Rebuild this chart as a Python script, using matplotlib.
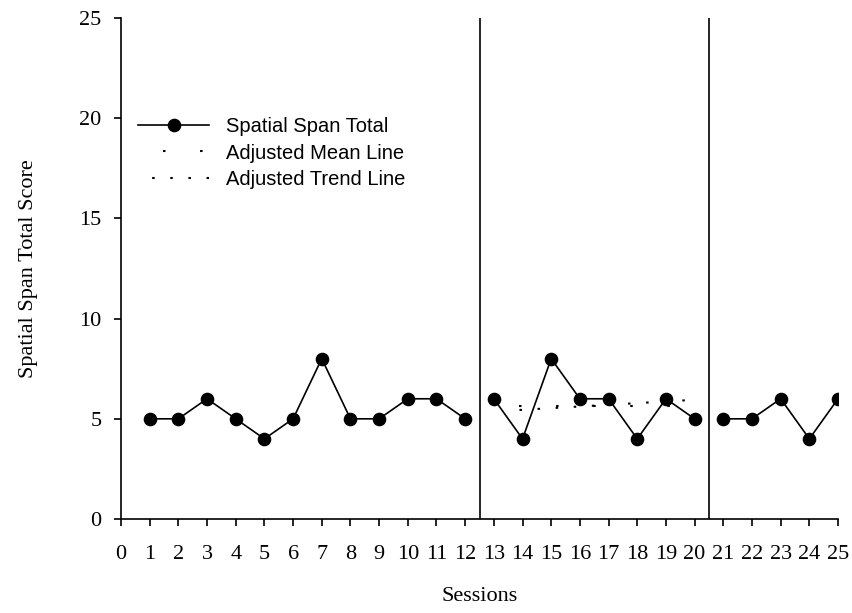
import matplotlib.pyplot as plt
import numpy as np

# data
sesi_a = [1, 2, 3, 4, 5, 6, 7, 8, 9, 10, 11, 12]
skor_a = [5, 5, 6, 5, 4, 5, 8, 5, 5, 6, 6, 5]
sesi_b = [13, 14, 15, 16, 17, 18, 19, 20]
skor_b = [6, 4, 8, 6, 6, 4, 6, 5]
sesi_c = [21, 22, 23, 24, 25]
skor_c = [5, 5, 6, 4, 6]

mean_x = [13, 20]
mean_y = [5.65, 5.65]
trend_x = [13.4, 20]
trend_y = [5.4, 5.95]

fase_batas = [12.5, 20.5]
xticks = list(range(0, 26))
yticks = [0, 5, 10, 15, 20, 25]

fig = plt.figure(figsize=(8.52, 6.13), dpi=100)
ax = fig.add_axes([0.142, 0.1533, 0.8416, 0.8173])

serif = ['Liberation Serif', 'DejaVu Serif']
sans = ['Liberation Sans', 'DejaVu Sans']

gaya = dict(color='black', linewidth=1.2, marker='o', markersize=8.8)
ax.plot(sesi_a, skor_a, label='Spatial Span Total', **gaya)
ax.plot(sesi_b, skor_b, **gaya)
ax.plot(sesi_c, skor_c, **gaya)

ax.plot(mean_x, mean_y, color='black', linewidth=1.5,
        linestyle=(5.8, (1.2, 16.6)), label='Adjusted Mean Line')
ax.plot(trend_x, trend_y, color='black', linewidth=1.5,
        linestyle=(1.9, (1.2, 7.5)), label='Adjusted Trend Line')

for b in fase_batas:
    ax.axvline(b, color='black', linewidth=1.2)

ax.set_xlim(0, 25)
ax.set_ylim(0, 25)
ax.set_xticks(xticks)
ax.set_yticks(yticks)
ax.spines['top'].set_visible(False)
ax.spines['right'].set_visible(False)
ax.spines['left'].set_linewidth(1.2)
ax.spines['bottom'].set_linewidth(1.2)
ax.tick_params(direction='out', length=5, width=1.2)
ax.tick_params(axis='x', pad=14)
ax.tick_params(axis='y', pad=9)
for t in ax.get_xticklabels() + ax.get_yticklabels():
    t.set_fontfamily(serif)
    t.set_fontsize(16)

ax.set_xlabel('Sessions', fontfamily=serif, fontsize=16, labelpad=16)
ax.set_ylabel('Spatial Span Total Score', fontfamily=serif, fontsize=16, labelpad=30)

leg = ax.legend(loc='upper left', bbox_to_anchor=(0.013, 0.818), frameon=False,
                handlelength=3.5, handletextpad=0.85, labelspacing=0.36,
                prop={'family': sans, 'size': 14.5}, borderaxespad=0)

fig.savefig('out.png', dpi=100)
